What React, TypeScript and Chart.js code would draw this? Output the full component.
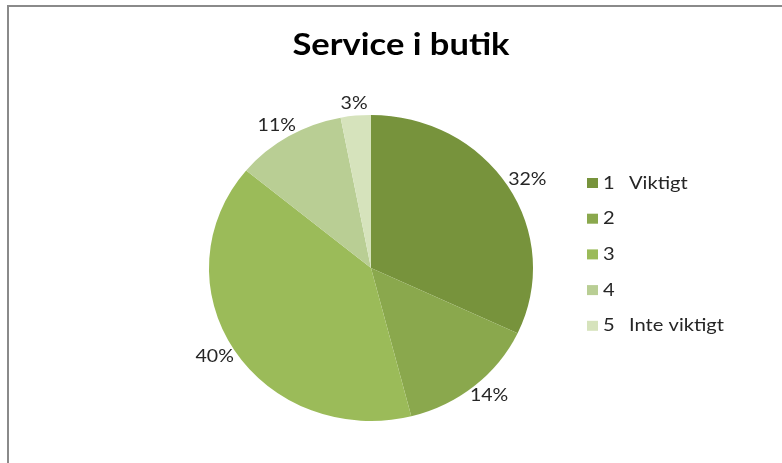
import React, { useEffect, useRef } from "react";
import { Chart, registerables } from "chart.js";

Chart.register(...registerables);

const TITLE = "Service i butik";
const categories = ["1", "2", "3", "4", "5"];
const categoryNotes = ["Viktigt", "", "", "", "Inte viktigt"];
const percentValues = [32, 14, 40, 11, 3];
const sliceColors = ["#77933C", "#8AA84D", "#9BBB59", "#B9CE94", "#D6E3BC"];

const FONT = "Lato, 'Open Sans', sans-serif";
const TEXT_COLOR = "#262626";
const TEXT_STRETCH = 1.15;
const PIE_SX = 1.032;
const PIE_SY = 0.975;

function stretchedText(ctx: any, text: string, x: number, y: number, align: string) {
  ctx.save();
  ctx.translate(x, y);
  ctx.scale(TEXT_STRETCH, 1);
  ctx.textAlign = align;
  ctx.fillText(text, 0, 0);
  ctx.restore();
}

const decorPlugin = {
  id: "decor",
  beforeDraw(chart: any) {
    const ctx = chart.ctx;
    ctx.save();
    ctx.fillStyle = "#ffffff";
    ctx.fillRect(0, 0, chart.width, chart.height);
    ctx.fillStyle = "#8a8a8a";
    ctx.fillRect(7, 5, chart.width - 7, 2);
    ctx.fillRect(7, 5, 2, chart.height - 5);
    ctx.restore();
  },
  beforeDatasetsDraw(chart: any) {
    const ctx = chart.ctx;
    const arc = chart.getDatasetMeta(0).data[0];
    ctx.save();
    if (arc) {
      ctx.translate(arc.x, arc.y);
      ctx.scale(PIE_SX, PIE_SY);
      ctx.translate(-arc.x, -arc.y);
    }
  },
  afterDatasetsDraw(chart: any) {
    chart.ctx.restore();
  },
  afterDraw(chart: any) {
    const ctx = chart.ctx;
    ctx.save();
    ctx.fillStyle = "#000000";
    ctx.font = `bold 30px ${FONT}`;
    ctx.textBaseline = "middle";
    stretchedText(ctx, TITLE, 401, 45, "center");

    const meta = chart.getDatasetMeta(0);
    ctx.font = `17px ${FONT}`;
    ctx.fillStyle = TEXT_COLOR;
    meta.data.forEach((arc: any, i: number) => {
      const { x, y, startAngle, endAngle, outerRadius } = arc.getProps(
        ["x", "y", "startAngle", "endAngle", "outerRadius"],
        true
      );
      const mid = (startAngle + endAngle) / 2;
      const dx = Math.cos(mid);
      const dy = Math.sin(mid);
      const label = percentValues[i] + "%";
      const hw = (ctx.measureText(label).width * TEXT_STRETCH) / 2;
      const hh = 8;
      const lx = x + (outerRadius * PIE_SX + 4) * dx + hw * dx;
      const ly = y + (outerRadius * PIE_SY + 4) * dy + hh * dy;
      stretchedText(ctx, label, lx, ly, "center");
    });

    ctx.textBaseline = "middle";
    ctx.font = `17.5px ${FONT}`;
    const top = 183;
    const step = 35.7;
    categories.forEach((c, i) => {
      const cy = top + i * step;
      ctx.fillStyle = sliceColors[i];
      ctx.fillRect(587, cy - 5, 11, 10);
      ctx.fillStyle = TEXT_COLOR;
      stretchedText(ctx, c, 603, cy, "left");
      if (categoryNotes[i]) stretchedText(ctx, categoryNotes[i], 629, cy, "left");
    });
    ctx.restore();
  },
};

export default function App() {
  const ref = useRef<HTMLCanvasElement | null>(null);
  useEffect(() => {
    if (!ref.current) return;
    const chart = new Chart(ref.current, {
      type: "pie",
      data: {
        labels: categories,
        datasets: [
          {
            data: percentValues,
            backgroundColor: sliceColors,
            borderWidth: 0,
          },
        ],
      },
      options: {
        responsive: false,
        animation: false,
        events: [],
        layout: { padding: { top: 111, bottom: 38, left: 171, right: 211 } },
        plugins: {
          legend: { display: false },
          title: { display: false },
          tooltip: { enabled: false },
        },
      },
      plugins: [decorPlugin],
    });
    return () => chart.destroy();
  }, []);
  return (
    <div style={{ position: "absolute", left: 0, top: 0, width: 782, height: 463 }}>
      <canvas ref={ref} width={782} height={463} style={{ width: 782, height: 463 }} />
    </div>
  );
}
